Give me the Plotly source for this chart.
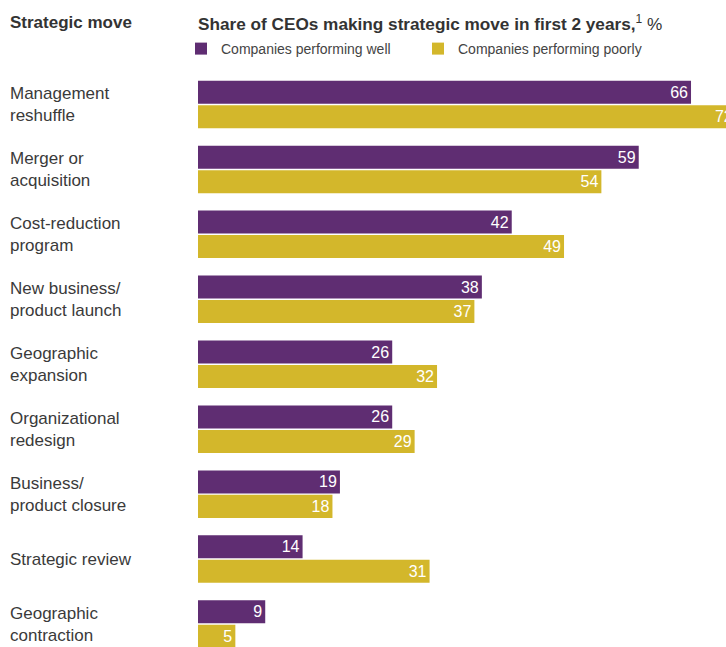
import plotly.graph_objects as go

categories = ["Management<br>reshuffle", "Merger or<br>acquisition", "Cost-reduction<br>program",
              "New business/<br>product launch", "Geographic<br>expansion", "Organizational<br>redesign",
              "Business/<br>product closure", "Strategic review", "Geographic<br>contraction"]
well = [66, 59, 42, 38, 26, 26, 19, 14, 9]
poorly = [72, 54, 49, 37, 32, 29, 18, 31, 5]

PURPLE = "#5f2d72"
YELLOW = "#d3b72b"
FONT = "Liberation Sans, Arial, sans-serif"

W, H = 726, 647
L, T = 198, 71.5
px_per_unit = 7.47
band = 65.0

fig = go.Figure()
fig.add_trace(go.Bar(y=categories, x=well, orientation="h", name="Companies performing well",
                     marker=dict(color=PURPLE, line=dict(width=0)),
                     text=well, textposition="inside", insidetextanchor="end",
                     textfont=dict(color="white", size=16, family=FONT), cliponaxis=True))
fig.add_trace(go.Bar(y=categories, x=poorly, orientation="h", name="Companies performing poorly",
                     marker=dict(color=YELLOW, line=dict(width=0)),
                     text=poorly, textposition="inside", insidetextanchor="end",
                     textfont=dict(color="white", size=16, family=FONT), cliponaxis=True))

for c in categories:
    fig.add_annotation(x=-(L - 8) / (W - L), xref="paper", y=c, yref="y", text=c, showarrow=False,
                       xanchor="left", align="left", font=dict(size=17, color="#3a3a3a", family=FONT))

fig.add_annotation(x=-(L - 8) / (W - L), xref="paper", y=1, yref="paper", yshift=T - 22,
                   text="<b>Strategic move</b>", showarrow=False, xanchor="left", yanchor="middle",
                   font=dict(size=17, color="#333333", family=FONT))
fig.add_annotation(x=-2 / (W - L), xref="paper", y=1, yref="paper", yshift=T - 22,
                   text="<b>Share of CEOs making strategic move in first 2 years,</b><sup>1</sup> %",
                   showarrow=False, xanchor="left", yanchor="middle",
                   font=dict(size=17.2, color="#333333", family=FONT))

fig.update_layout(
    width=W, height=H,
    margin=dict(l=L, r=0, t=T, b=0, pad=0),
    paper_bgcolor="white", plot_bgcolor="white",
    barmode="group", bargap=0.246, bargroupgap=0.06,
    showlegend=True,
    legend=dict(orientation="h", x=-17 / (W - L), xanchor="left", y=1 + 7 / (H - T), yref="paper",
                yanchor="bottom",
                entrywidth=192, entrywidthmode="pixels",
                font=dict(size=14, color="#444444", family=FONT), traceorder="normal",
                bgcolor="rgba(0,0,0,0)"),
    xaxis=dict(range=[0, (W - L) / px_per_unit], visible=False, fixedrange=True),
    yaxis=dict(range=[-0.5 + (H - T) / band, -0.5], showticklabels=False, showgrid=False,
               zeroline=False, showline=False, ticks="", fixedrange=True),
    font=dict(family=FONT),
)

fig.write_html("out.html")
